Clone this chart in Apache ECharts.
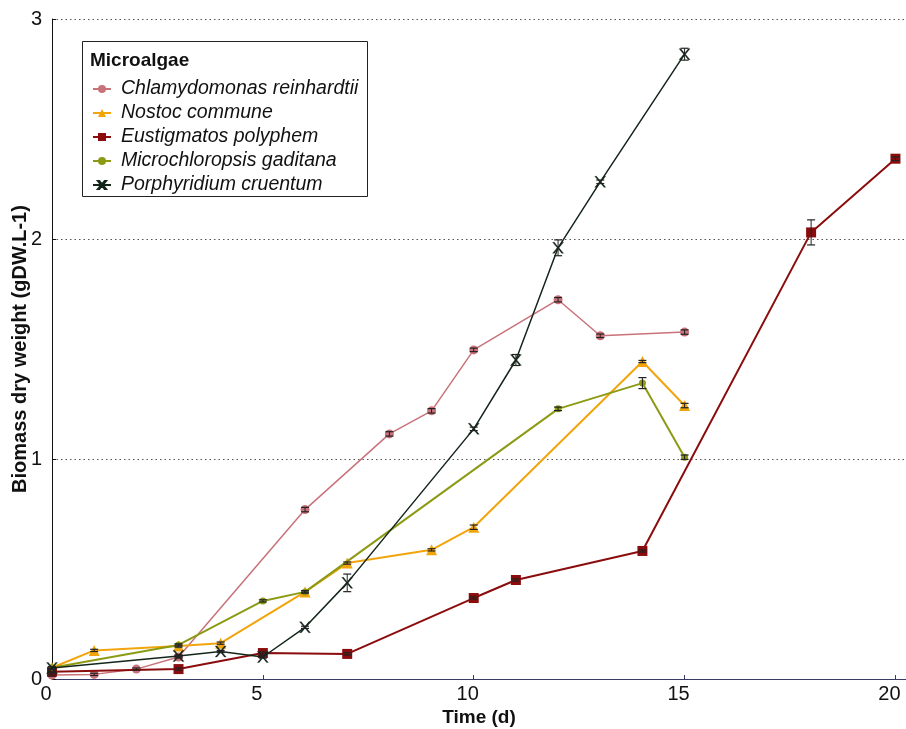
<!DOCTYPE html>
<html><head><meta charset="utf-8">
<script src="https://cdn.jsdelivr.net/npm/echarts@6/dist/echarts.min.js"></script>
<style>html,body{margin:0;padding:0;background:#fff}#c{width:906px;height:729px}</style>
</head><body><div id="c"></div>
<script>
var seriesNames = ['Chlamydomonas reinhardtii','Nostoc commune','Eustigmatos polyphem','Microchloropsis gaditana','Porphyridium cruentum'];
var daysC = [0,1,2,3,6,8,9,10,12,13,15];
var valC  = [0.018,0.021,0.045,0.10,0.77,1.114,1.219,1.496,1.724,1.56,1.577];
var errC  = [0.005,0.005,0.005,0.005,0.01,0.01,0.01,0.008,0.01,0.008,0.01];
var daysN = [0,1,3,4,6,7,9,10,14,15];
var valN  = [0.051,0.13,0.15,0.163,0.396,0.527,0.587,0.69,1.443,1.243];
var errN  = [0.005,0.005,0.005,0.005,0.005,0.005,0.005,0.01,0.005,0.01];
var daysE = [0,3,5,7,10,11,14,18,20];
var valE  = [0.033,0.045,0.118,0.114,0.368,0.45,0.582,2.03,2.365];
var errE  = [0.003,0.005,0.005,0.005,0.005,0.005,0.005,0.057,0.008];
var daysM = [0,3,5,6,12,14,15];
var valM  = [0.051,0.155,0.355,0.396,1.228,1.345,1.008];
var errM  = [0.005,0.005,0.005,0.005,0.008,0.025,0.01];
var daysP = [0,3,4,5,6,7,10,11,12,13,15];
var valP  = [0.05,0.105,0.125,0.10,0.235,0.437,1.137,1.45,1.96,2.26,2.84];
var errP  = [0.005,0.005,0.005,0.005,0.005,0.04,0.008,0.025,0.036,0.008,0.027];
var xTicks = [0,5,10,15,20];
var yTicks = [0,1,2,3];

var colors = ['#c9727a','#f2a40c','#8a0c0c','#8c9a14','#14261a'];
var symbols = ['circle','triangle','rect','circle','path://M0,0 L2,0 L6,4.2 L10,0 L12,0 L7,5 L12,10 L10,10 L6,5.8 L2,10 L0,10 L5,5 Z'];
var sizes = [9,11,10,7,11];
var widths = [1.5,2,2,2,1.5];
var allDays = [daysC,daysN,daysE,daysM,daysP];
var allVals = [valC,valN,valE,valM,valP];
var allErrs = [errC,errN,errE,errM,errP];

var series = [];
var errData = [];
for (var s = 0; s < 5; s++) {
  var d = [];
  for (var i = 0; i < allDays[s].length; i++) {
    d.push([allDays[s][i], allVals[s][i]]);
    errData.push([allDays[s][i], allVals[s][i], allErrs[s][i]]);
  }
  series.push({
    name: seriesNames[s], type: 'line', data: d,
    symbol: symbols[s], symbolSize: sizes[s], showAllSymbol: true,
    lineStyle: {color: colors[s], width: widths[s]},
    itemStyle: {color: colors[s], borderColor: colors[s], borderWidth: s === 4 ? 0.3 : 0},
    z: 3 + s, animation: false
  });
}
series.push({
  type: 'custom', name: 'err', data: errData, z: 20, animation: false,
  renderItem: function (params, api) {
    var x = api.value(0), y = api.value(1), e = api.value(2);
    var top = api.coord([x, y + e]);
    var bot = api.coord([x, y - e]);
    var hw = 4;
    return {
      type: 'group',
      children: [
        {type: 'line', shape: {x1: top[0], y1: top[1], x2: bot[0], y2: bot[1]}, style: {stroke: '#222', lineWidth: 1}},
        {type: 'line', shape: {x1: top[0]-hw, y1: top[1], x2: top[0]+hw, y2: top[1]}, style: {stroke: '#222', lineWidth: 1.2}},
        {type: 'line', shape: {x1: bot[0]-hw, y1: bot[1], x2: bot[0]+hw, y2: bot[1]}, style: {stroke: '#222', lineWidth: 1.2}}
      ]
    };
  }
});

var chart = echarts.init(document.getElementById('c'), null, {renderer: 'canvas'});
chart.setOption({
  backgroundColor: '#fff',
  animation: false,
  grid: {left: 52, right: 0, top: 19, bottom: 50, containLabel: false, outerBoundsMode: 'none'},
  xAxis: {
    type: 'value', min: 0, max: 20.25, interval: 5,
    name: 'Time (d)', nameLocation: 'middle', nameGap: 29, nameMoveOverlap: false,
    nameTextStyle: {fontFamily: 'Liberation Sans', fontWeight: 'bold', fontSize: 19, color: '#111'},
    axisLine: {lineStyle: {color: '#3a3a66', width: 1}},
    axisTick: {inside: true, length: 4, lineStyle: {color: '#3a3a66'}},
    axisLabel: {fontFamily: 'Liberation Sans', fontSize: 20, color: '#111', margin: 5, padding: [0, 12, 0, 0],
      formatter: function (v) { return xTicks.indexOf(v) >= 0 ? String(v) : ''; }},
    splitLine: {show: false}
  },
  yAxis: {
    type: 'value', min: 0, max: 3, interval: 1,
    name: 'Biomass dry weight (gDW.L-1)', nameLocation: 'middle', nameGap: 22, nameMoveOverlap: false,
    nameTextStyle: {fontFamily: 'Liberation Sans', fontWeight: 'bold', fontSize: 20, color: '#111'},
    axisLine: {show: true, lineStyle: {color: '#111', width: 1}},
    axisTick: {show: true, inside: true, length: 4, lineStyle: {color: '#111'}},
    axisLabel: {fontFamily: 'Liberation Sans', fontSize: 20, color: '#111', margin: 10,
      formatter: function (v) { return yTicks.indexOf(v) >= 0 ? String(v) : ''; }},
    splitLine: {show: true, lineStyle: {color: '#555', type: [1.5, 3], width: 1.2}}
  },
  legend: {
    data: seriesNames, orient: 'vertical', left: 92, top: 79,
    itemWidth: 18, itemHeight: 10, itemGap: 4,
    textStyle: {fontFamily: 'Liberation Sans', fontStyle: 'italic', fontSize: 19.5, color: '#111', padding: [0,0,0,5]},
    padding: 0
  },
  graphic: [
    {type: 'rect', shape: {x: 82.5, y: 41.5, width: 285, height: 155}, style: {fill: 'none', stroke: '#222', lineWidth: 1}, z: 1},
    {type: 'text', x: 90, y: 51, style: {text: 'Microalgae', fontFamily: 'Liberation Sans', fontWeight: 'bold', fontSize: 19, fill: '#111'}, z: 2}
  ],
  series: series
});
</script></body></html>
